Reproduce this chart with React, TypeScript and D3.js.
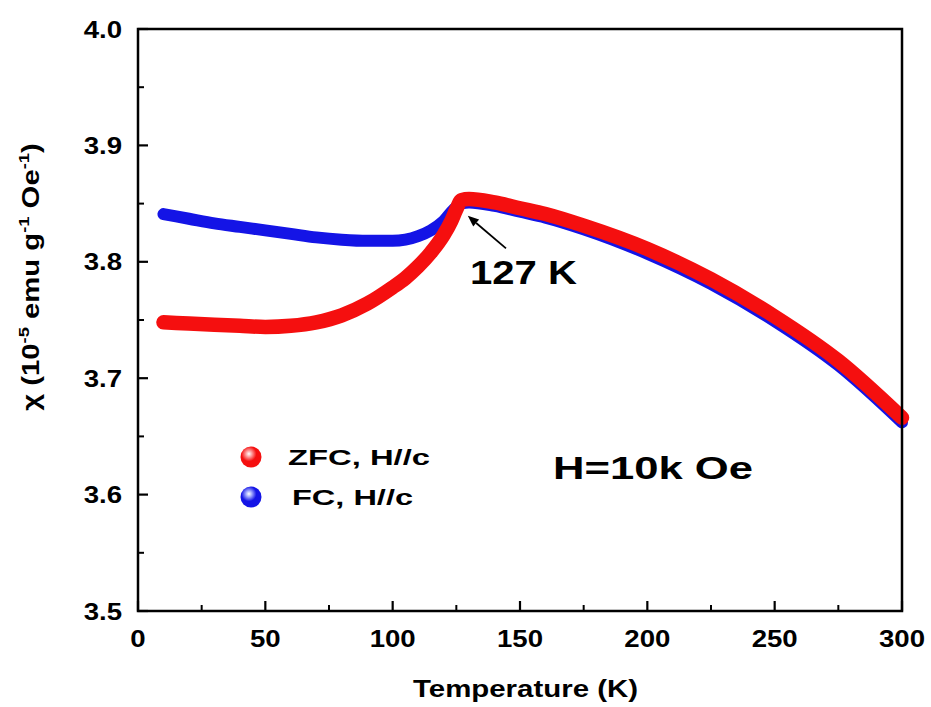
import React from "react";
import * as d3 from "d3";

// temperature (K) and susceptibility (1e-5 emu/g/Oe)
const zfcTemp = [10, 20, 30, 40, 50, 60, 70, 80, 90, 100, 105, 110, 115, 120, 123, 125, 127, 130, 140, 150, 160, 175, 200, 225, 250, 275, 300];
const zfcChi = [3.748, 3.747, 3.746, 3.745, 3.744, 3.745, 3.748, 3.754, 3.764, 3.778, 3.786, 3.796, 3.808, 3.823, 3.835, 3.845, 3.853, 3.854, 3.851, 3.846, 3.841, 3.831, 3.811, 3.785, 3.753, 3.715, 3.666];

const fcTemp = [10, 20, 30, 40, 50, 60, 70, 80, 90, 100, 105, 110, 115, 120, 124, 127, 130, 140, 150, 160, 175, 200, 225, 250, 275, 300];
const fcChi = [3.841, 3.837, 3.833, 3.830, 3.827, 3.824, 3.821, 3.819, 3.818, 3.818, 3.819, 3.822, 3.827, 3.835, 3.845, 3.850, 3.851, 3.848, 3.843, 3.838, 3.828, 3.807, 3.781, 3.749, 3.711, 3.662];

const xTicks = [0, 50, 100, 150, 200, 250, 300];
const xMinor = [25, 75, 125, 175, 225, 275];
const yTicks = [3.5, 3.6, 3.7, 3.8, 3.9, 4.0];
const yMinor = [3.55, 3.65, 3.75, 3.85, 3.95];

const legendItems = [
  { label: "ZFC, H//c", color: "#f50f0f", light: "#ffb0b0", width: 142 },
  { label: "FC, H//c", color: "#1414e6", light: "#b0b8ff", width: 121 },
];

export default function App() {
  const width = 931;
  const height = 707;
  const plot = { left: 138, top: 29, right: 902, bottom: 611 };

  const x = d3.scaleLinear().domain([0, 300]).range([plot.left, plot.right]);
  const y = d3.scaleLinear().domain([3.5, 4.0]).range([plot.bottom, plot.top]);

  const line = d3
    .line<[number, number]>()
    .x(d => x(d[0]))
    .y(d => y(d[1]))
    .curve(d3.curveMonotoneX);

  const zfcPath = line(zfcTemp.map((t, i) => [t, zfcChi[i]]));
  const fcPath = line(fcTemp.map((t, i) => [t, fcChi[i]]));

  const font = "'Liberation Sans', Arial, sans-serif";
  const sx = 1.2;

  // arrow for the 127 K transition
  const tip = [x(129.5), y(3.8395)];
  const tail = [x(144.5), y(3.8115)];
  const ang = Math.atan2(tip[1] - tail[1], tip[0] - tail[0]);
  const hl = 11;
  const hw = 4.5;
  const base = [tip[0] - hl * Math.cos(ang), tip[1] - hl * Math.sin(ang)];
  const head = [
    tip,
    [base[0] + hw * Math.sin(ang), base[1] - hw * Math.cos(ang)],
    [base[0] - hw * Math.sin(ang), base[1] + hw * Math.cos(ang)],
  ];

  return (
    <svg
      width={width}
      height={height}
      style={{ position: "absolute", left: 0, top: 0, background: "#fff" }}
      fontFamily={font}
      fontWeight="bold"
    >
      <defs>
        {legendItems.map((d, i) => (
          <radialGradient key={i} id={`ball${i}`} cx="0.4" cy="0.35" r="0.65">
            <stop offset="0" stopColor="#fff" />
            <stop offset="0.18" stopColor={d.light} />
            <stop offset="0.55" stopColor={d.color} />
            <stop offset="1" stopColor={d.color} />
          </radialGradient>
        ))}
      </defs>

      {/* curves */}
      <path d={fcPath || ""} fill="none" stroke="#1414e6" strokeWidth={12} strokeLinecap="round" strokeLinejoin="round" />
      <path d={zfcPath || ""} fill="none" stroke="#f50f0f" strokeWidth={14.5} strokeLinecap="round" strokeLinejoin="round" />

      {/* frame */}
      <rect
        x={plot.left}
        y={plot.top}
        width={plot.right - plot.left}
        height={plot.bottom - plot.top}
        fill="none"
        stroke="#000"
        strokeWidth={2.5}
      />

      {/* x ticks */}
      {xTicks.map(t => (
        <g key={`xt${t}`}>
          <line x1={x(t)} x2={x(t)} y1={plot.bottom} y2={plot.bottom - 10} stroke="#000" strokeWidth={2.2} />
          <text
            transform={`translate(${x(t)},647) scale(${sx},1)`}
            textAnchor="middle"
            fontSize={23}
          >
            {t}
          </text>
        </g>
      ))}
      {xMinor.map(t => (
        <line key={`xm${t}`} x1={x(t)} x2={x(t)} y1={plot.bottom} y2={plot.bottom - 6} stroke="#000" strokeWidth={2} />
      ))}

      {/* y ticks */}
      {yTicks.map(t => (
        <g key={`yt${t}`}>
          <line x1={plot.left} x2={plot.left + 10} y1={y(t)} y2={y(t)} stroke="#000" strokeWidth={2.2} />
          <text
            transform={`translate(122,${y(t) + 8.5}) scale(${sx},1)`}
            textAnchor="end"
            fontSize={23}
          >
            {t.toFixed(1)}
          </text>
        </g>
      ))}
      {yMinor.map(t => (
        <line key={`ym${t}`} x1={plot.left} x2={plot.left + 6} y1={y(t)} y2={y(t)} stroke="#000" strokeWidth={2} />
      ))}

      {/* axis titles */}
      <text x={413} y={697} fontSize={24} textLength={225} lengthAdjust="spacingAndGlyphs">
        Temperature (K)
      </text>
      <text
        transform="translate(39,277) rotate(-90) scale(1.22,1)"
        textAnchor="middle"
        fontSize={24}
      >
        <tspan>χ (10</tspan>
        <tspan fontSize={15} dy={-10}>-5</tspan>
        <tspan dy={10}> emu g</tspan>
        <tspan fontSize={15} dy={-10}>-1</tspan>
        <tspan dy={10}> Oe</tspan>
        <tspan fontSize={15} dy={-10}>-1</tspan>
        <tspan dy={10}>)</tspan>
      </text>

      {/* annotation */}
      <line x1={tail[0]} y1={tail[1]} x2={base[0]} y2={base[1]} stroke="#000" strokeWidth={1.8} />
      <polygon points={head.map(p => p.join(",")).join(" ")} fill="#000" />
      <text x={470} y={284} fontSize={33} textLength={107} lengthAdjust="spacingAndGlyphs">
        127 K
      </text>
      <text x={553} y={479} fontSize={32} textLength={200} lengthAdjust="spacingAndGlyphs">
        H=10k Oe
      </text>

      {/* legend */}
      {legendItems.map((d, i) => (
        <g key={d.label} transform={`translate(251,${457 + i * 40})`}>
          <circle r={10.5} fill={`url(#ball${i})`} />
          <text x={i === 0 ? 37 : 41} y={8} fontSize={22} textLength={d.width} lengthAdjust="spacingAndGlyphs">
            {d.label}
          </text>
        </g>
      ))}
    </svg>
  );
}
